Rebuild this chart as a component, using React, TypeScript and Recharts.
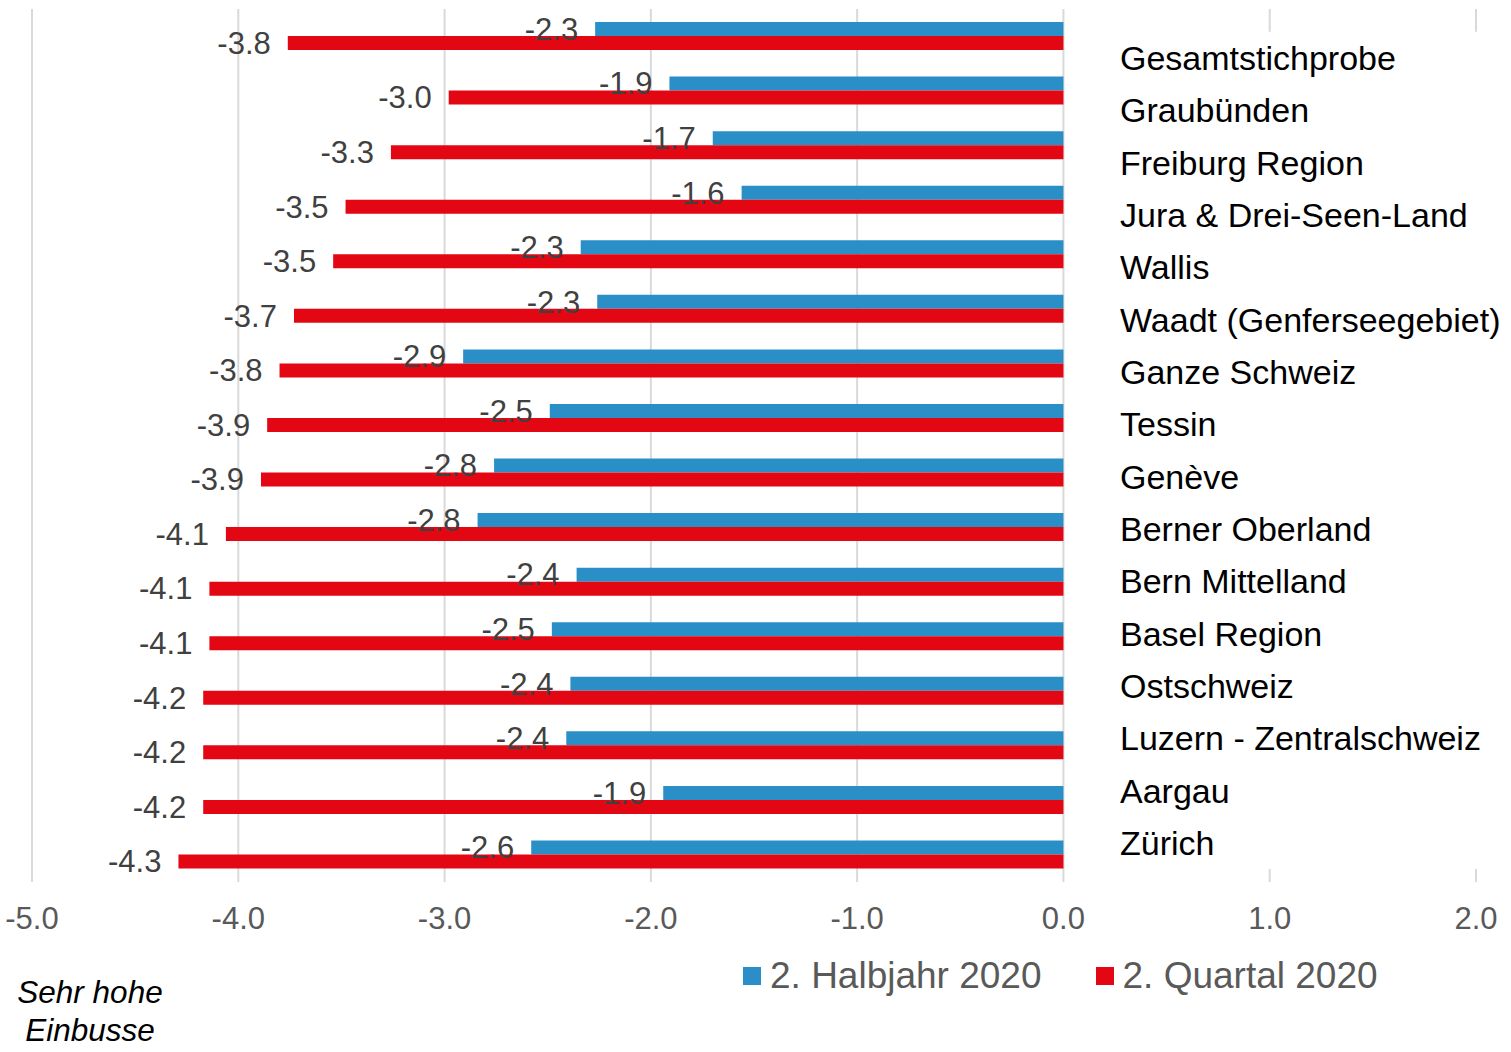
import { BarChart, Bar, XAxis, YAxis, CartesianGrid, ReferenceArea, LabelList, Legend } from "recharts";

// regions, top to bottom as in the chart
const categories = [
  "Gesamtstichprobe",
  "Graubünden",
  "Freiburg Region",
  "Jura & Drei-Seen-Land",
  "Wallis",
  "Waadt (Genferseegebiet)",
  "Ganze Schweiz",
  "Tessin",
  "Genève",
  "Berner Oberland",
  "Bern Mittelland",
  "Basel Region",
  "Ostschweiz",
  "Luzern - Zentralschweiz",
  "Aargau",
  "Zürich",
];

const halbjahr2020 = [
  -2.27, -1.91, -1.7, -1.56, -2.34, -2.26, -2.91, -2.49, -2.76, -2.84, -2.36, -2.48, -2.39, -2.41, -1.94, -2.58,
];

const quartal2020 = [
  -3.76, -2.98, -3.26, -3.48, -3.54, -3.73, -3.8, -3.86, -3.89, -4.06, -4.14, -4.14, -4.17, -4.17, -4.17, -4.29,
];

const xTicks = [-5, -4, -3, -2, -1, 0, 1, 2];

const series = [
  { key: "h", name: "2. Halbjahr 2020", color: "#2B8FC7" },
  { key: "q", name: "2. Quartal 2020", color: "#E30613" },
];

const data = categories.map((name, i) => ({ name, h: halbjahr2020[i], q: quartal2020[i] }));

const FONT = '"Liberation Sans", Arial, sans-serif';

function ValueLabel(props: any) {
  const vb = props.viewBox ?? props;
  const { x, y, width, height } = vb;
  const end = Math.min(x, x + width);
  return (
    <text x={end - 17} y={y + height / 2} dy="0.35em" textAnchor="end" fontSize={31} fill="#404040" fontFamily={FONT}>
      {Number(props.value).toFixed(1)}
    </text>
  );
}

function CategoryTick(props: any) {
  const { y, payload } = props;
  return (
    <text x={1120} y={y} dy="0.35em" textAnchor="start" fontSize={34} fill="#000" fontFamily={FONT}>
      {payload.value}
    </text>
  );
}

function LegendContent() {
  return (
    <div style={{ display: "flex", alignItems: "center", fontFamily: FONT, fontSize: 37, color: "#595959", height: 42 }}>
      {series.map((s, i) => (
        <div key={s.key} style={{ display: "flex", alignItems: "center", marginLeft: i === 0 ? 0 : 54 }}>
          <span style={{ width: 18, height: 18, background: s.color, display: "inline-block", marginRight: 9 }} />
          <span style={{ whiteSpace: "nowrap" }}>{s.name}</span>
        </div>
      ))}
    </div>
  );
}

export default function App() {
  return (
    <div style={{ position: "absolute", left: 0, top: 0, width: 1511, height: 1052, background: "#fff" }}>
      <BarChart
        width={1511}
        height={1052}
        data={data}
        layout="vertical"
        margin={{ top: 9, right: 35, bottom: 82, left: 31 }}
        barSize={14}
        barGap={0}
      >
        <CartesianGrid horizontal={false} stroke="#D9D9D9" strokeWidth={2} />
        <XAxis
          type="number"
          domain={[-5, 2]}
          ticks={xTicks}
          tickFormatter={(v: number) => v.toFixed(1)}
          axisLine={false}
          tickLine={false}
          tickSize={0}
          tickMargin={25}
          height={88}
          interval={0}
          tick={{ fill: "#595959", fontSize: 31, fontFamily: FONT }}
        />
        <YAxis type="category" dataKey="name" hide />
        {/* second category axis only for the region names on the right */}
        <YAxis
          yAxisId="names"
          type="category"
          dataKey="name"
          width={1}
          padding={{ top: 22.8, bottom: 12.9 }}
          axisLine={false}
          tickLine={false}
          interval={0}
          tick={<CategoryTick />}
        />
        <ReferenceArea
          yAxisId="names"
          y1="Gesamtstichprobe"
          y2="Zürich"
          x1={0.2}
          x2={2.3}
          fill="#fff"
          fillOpacity={1}
          stroke="none"
          ifOverflow="visible"
        />
        <Bar
          yAxisId="names"
          dataKey="h"
          fill="transparent"
          fillOpacity={0}
          legendType="none"
          isAnimationActive={false}
        />
        {series.map((s) => (
          <Bar key={s.key} dataKey={s.key} name={s.name} fill={s.color} isAnimationActive={false}>
            <LabelList dataKey={s.key} content={<ValueLabel />} />
          </Bar>
        ))}
        <Legend
          layout="horizontal"
          verticalAlign="middle"
          align="center"
          content={<LegendContent />}
          wrapperStyle={{ position: "absolute", left: 743, top: 955, width: 700 }}
        />
      </BarChart>
      <div
        style={{
          position: "absolute",
          left: 0,
          top: 973,
          width: 180,
          textAlign: "center",
          fontFamily: FONT,
          fontStyle: "italic",
          fontSize: 31.5,
          lineHeight: "38px",
          color: "#000",
        }}
      >
        Sehr hohe
        <br />
        Einbusse
      </div>
    </div>
  );
}
